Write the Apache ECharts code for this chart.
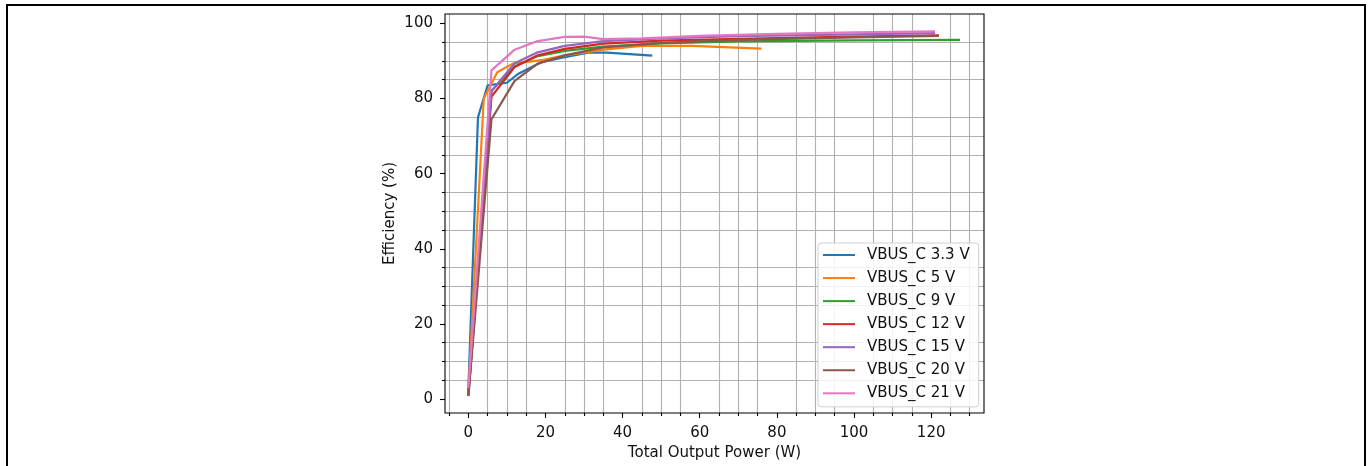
<!DOCTYPE html>
<html>
<head>
<meta charset="utf-8">
<script src="https://cdn.jsdelivr.net/npm/echarts@6/dist/echarts.min.js"></script>
<style>
html,body{margin:0;padding:0;background:#fff;}
#chart{width:1370px;height:466px;}
</style>
</head>
<body>
<div id="chart"></div>
<script>
// ---- data ----
const seriesNames = ['VBUS_C 3.3 V','VBUS_C 5 V','VBUS_C 9 V','VBUS_C 12 V','VBUS_C 15 V','VBUS_C 20 V','VBUS_C 21 V'];

const power_3v3 = [0, 2.5, 5, 10, 13, 19, 25, 31, 36, 47.7];
const eff_3v3   = [2.5, 75, 83.5, 84.2, 86.6, 89.7, 91.0, 92.2, 92.2, 91.4];

const power_5v = [0, 4, 7.5, 11.5, 19.5, 25, 35, 45, 58, 76];
const eff_5v   = [1.5, 80, 87, 89.3, 90.3, 91.5, 93.0, 94.0, 94.0, 93.3];

const power_9v = [0, 6, 12, 18, 25, 35, 50, 70, 100, 127.5];
const eff_9v   = [1, 82, 88.5, 91.3, 92.7, 93.8, 94.7, 95.2, 95.5, 95.6];

const power_12v = [0, 6, 12, 18, 25, 35, 50, 70, 100, 122];
const eff_12v   = [1, 80.5, 88.4, 91.5, 93.2, 94.6, 95.4, 95.9, 96.5, 96.8];

const power_15v = [0, 6, 12, 18, 25, 35, 50, 70, 100, 121];
const eff_15v   = [1, 82, 89.4, 92.3, 94.0, 95.3, 96.0, 96.6, 97.1, 97.4];

const power_20v = [0, 6, 12, 18, 25, 35, 50, 70, 100, 122];
const eff_20v   = [0.8, 74.5, 84.7, 89.3, 91.5, 93.6, 94.8, 95.6, 96.3, 96.7];

const power_21v = [0, 6, 12, 18, 25, 30, 35, 45, 60, 80, 100, 121];
const eff_21v   = [3, 87.5, 93.0, 95.3, 96.4, 96.5, 95.8, 96.0, 96.7, 97.2, 97.6, 97.9];

// ---- tick labels / tick positions ----
const xMajorTicks = [0, 20, 40, 60, 80, 100, 120];
const xMinorTicks = [-5, 5, 10, 15, 25, 30, 35, 45, 50, 55, 65, 70, 75, 85, 90, 95, 105, 110, 115, 125, 130];
const yMajorTicks = [0, 20, 40, 60, 80, 100];
const yMinorTicks = [5, 10, 15, 25, 30, 35, 45, 50, 55, 65, 70, 75, 85, 90, 95];
// grid lines are drawn only at the minor tick positions (as in the reference)
const xGridLines = xMinorTicks;
const yGridLines = yMinorTicks;

const colors = ['#1f77b4','#ff7f0e','#2ca02c','#d62728','#9467bd','#8c564b','#e377c2'];
const allX = [power_3v3, power_5v, power_9v, power_12v, power_15v, power_20v, power_21v];
const allY = [eff_3v3, eff_5v, eff_9v, eff_12v, eff_15v, eff_20v, eff_21v];

const X_MIN = -6.05, X_MAX = 133.7, Y_MIN = -3.7, Y_MAX = 102.5;
const FONT = 'DejaVu Sans';
const FS = 15;
const TXT = '#111';
const gridColor = '#b0b0b0';

const series = seriesNames.map((name, i) => ({
  name: name,
  type: 'line',
  xAxisIndex: 0,
  yAxisIndex: 0,
  data: allX[i].map((x, j) => [x, allY[i][j]]),
  showSymbol: false,
  symbol: 'none',
  smooth: false,
  lineStyle: { color: colors[i], width: 2.2 },
  itemStyle: { color: colors[i] },
  emphasis: { disabled: true },
  animation: false,
  z: 3
}));

// grid lines through the library's axes (markLine on an empty helper series)
series.unshift({
  name: '__grid',
  type: 'line',
  xAxisIndex: 0,
  yAxisIndex: 0,
  data: [],
  silent: true,
  animation: false,
  z: 1,
  markLine: {
    silent: true,
    animation: false,
    symbol: ['none', 'none'],
    label: { show: false },
    emphasis: { disabled: true },
    lineStyle: { color: gridColor, width: 1.1, type: 'solid' },
    z: 1,
    data: xGridLines.map(v => ({ xAxis: v })).concat(yGridLines.map(v => ({ yAxis: v })))
  }
});

const chart = echarts.init(document.getElementById('chart'), null, { renderer: 'canvas' });
chart.setOption({
  animation: false,
  backgroundColor: '#ffffff',
  textStyle: { fontFamily: FONT },
  graphic: [{
    type: 'rect',
    shape: { x: 7, y: 5, width: 1358, height: 480 },
    style: { fill: 'none', stroke: '#000', lineWidth: 2 },
    silent: true,
    z: 0
  }],
  grid: {
    left: 445, top: 14, width: 539, height: 399,
    show: true, borderColor: '#000', borderWidth: 1.1, backgroundColor: 'transparent',
    containLabel: false, z: 4
  },
  legend: {
    data: seriesNames,
    orient: 'vertical',
    left: 818, top: 243,
    icon: 'rect',
    itemWidth: 32, itemHeight: 2,
    itemGap: 8.05,
    padding: [4.5, 9, 6, 5],
    backgroundColor: 'rgba(255,255,255,0.85)',
    borderColor: '#d0d0d0', borderWidth: 1, borderRadius: 3,
    textStyle: { fontFamily: FONT, fontSize: FS, color: TXT, padding: [0, 0, 0, 7] },
    selectedMode: false,
    z: 10
  },
  xAxis: [{
    type: 'value', min: X_MIN, max: X_MAX, position: 'bottom',
    name: 'Total Output Power (W)', nameLocation: 'middle', nameGap: 33,
    nameTextStyle: { fontFamily: FONT, fontSize: FS, color: TXT },
    axisLine: { show: false, onZero: false },
    axisTick: { show: true, length: 5, customValues: xMajorTicks, lineStyle: { color: '#000', width: 1.1 } },
    axisLabel: { customValues: xMajorTicks, margin: 13, fontFamily: FONT, fontSize: FS, color: TXT },
    splitLine: { show: false }
  }, {
    type: 'value', min: X_MIN, max: X_MAX, position: 'bottom',
    axisLine: { show: false, onZero: false },
    axisTick: { show: true, length: 3, customValues: xMinorTicks, lineStyle: { color: '#000', width: 1.1 } },
    axisLabel: { show: false },
    splitLine: { show: false }
  }],
  yAxis: [{
    type: 'value', min: Y_MIN, max: Y_MAX, position: 'left',
    name: 'Efficiency (%)', nameLocation: 'middle', nameGap: 47.5,
    nameTextStyle: { fontFamily: FONT, fontSize: FS, color: TXT },
    axisLine: { show: false, onZero: false },
    axisTick: { show: true, length: 5, customValues: yMajorTicks, lineStyle: { color: '#000', width: 1.1 } },
    axisLabel: { customValues: yMajorTicks, margin: 12, fontFamily: FONT, fontSize: FS, color: TXT },
    splitLine: { show: false }
  }, {
    type: 'value', min: Y_MIN, max: Y_MAX, position: 'left',
    axisLine: { show: false, onZero: false },
    axisTick: { show: true, length: 3, customValues: yMinorTicks, lineStyle: { color: '#000', width: 1.1 } },
    axisLabel: { show: false },
    splitLine: { show: false }
  }],
  series: series
});
</script>
</body>
</html>
